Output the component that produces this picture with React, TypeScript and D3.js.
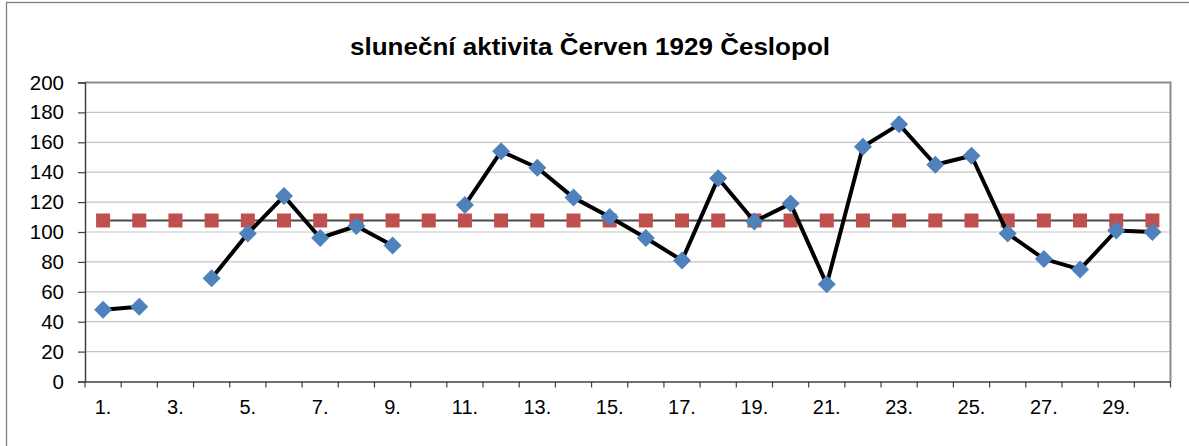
import React, { useEffect, useRef } from 'react';
import * as d3 from 'd3';

// denni hodnoty, null = chybi mereni
const DAYS = d3.range(1, 31);
const ACTIVITY: (number | null)[] = [
  48, 50, null, 69, 99, 124, 96, 104, 91, null,
  118, 154, 143, 123, 110, 96, 81, 136, 107, 119,
  65, 157, 172, 145, 151, 99, 82, 75, 101, 100,
];
const AVERAGE = 107.7;
const Y_TICKS = [0, 20, 40, 60, 80, 100, 120, 140, 160, 180, 200];
const X_LABEL_DAYS = [1, 3, 5, 7, 9, 11, 13, 15, 17, 19, 21, 23, 25, 27, 29];
const TITLE = 'sluneční aktivita Červen 1929 Česlopol';

const W = 1189;
const H = 446;
const margin = { top: 82.5, right: 18.5, bottom: 64.5, left: 85 };
const FONT = '"Liberation Sans", Arial, sans-serif';

const App = () => {
  const svgRef = useRef<SVGSVGElement>(null);

  useEffect(() => {
    const svg = d3.select(svgRef.current);
    svg.selectAll('*').remove();

    const x = d3.scaleBand<number>()
      .domain(DAYS)
      .range([margin.left, W - margin.right]);
    const y = d3.scaleLinear()
      .domain([0, 200])
      .range([H - margin.bottom, margin.top]);
    const cx = (d: number) => (x(d) as number) + x.bandwidth() / 2;

    // ramecek grafu
    svg.append('rect')
      .attr('x', 6.5).attr('y', 2.5)
      .attr('width', W + 20).attr('height', H + 20)
      .attr('fill', '#fff')
      .attr('stroke', '#7f7f7f')
      .attr('stroke-width', 1.3);

    svg.append('text')
      .attr('x', 350).attr('y', 54.5)
      .attr('font-family', FONT)
      .attr('font-weight', 'bold')
      .attr('font-size', 23)
      .attr('textLength', 480)
      .attr('lengthAdjust', 'spacingAndGlyphs')
      .attr('fill', '#000')
      .text(TITLE);

    // mrizka
    svg.append('g')
      .selectAll('line')
      .data(Y_TICKS.filter(t => t > 0 && t < 200))
      .join('line')
      .attr('x1', margin.left).attr('x2', W - margin.right)
      .attr('y1', d => y(d)).attr('y2', d => y(d))
      .attr('stroke', '#c4c4c4')
      .attr('stroke-width', 1.2);

    // okraj plochy
    svg.append('path')
      .attr('d', `M${margin.left},${margin.top}H${W - margin.right}V${H - margin.bottom}`)
      .attr('fill', 'none')
      .attr('stroke', '#8c8c8c')
      .attr('stroke-width', 2);

    // osa y
    const yAxis = svg.append('g')
      .attr('transform', `translate(${margin.left},0)`)
      .call(d3.axisLeft(y).tickValues(Y_TICKS).tickSize(7).tickPadding(14).tickFormat(d3.format('d')));
    yAxis.select('.domain').attr('stroke', '#404040').attr('stroke-width', 1.5);
    yAxis.selectAll('.tick line').attr('stroke', '#404040').attr('stroke-width', 1.2);
    yAxis.selectAll('.tick text')
      .attr('font-family', FONT).attr('font-size', 20.5).attr('fill', '#000');

    // osa x
    const xAxis = svg.append('g')
      .attr('transform', `translate(0,${H - margin.bottom})`)
      .call(d3.axisBottom(x).tickSize(0).tickPadding(18)
        .tickFormat(d => (X_LABEL_DAYS.includes(d) ? `${d}.` : '')));
    xAxis.select('.domain').attr('stroke', '#404040').attr('stroke-width', 1.5);
    xAxis.selectAll('.tick text')
      .attr('font-family', FONT).attr('font-size', 20).attr('fill', '#000');
    xAxis.append('g')
      .selectAll('line')
      .data([...DAYS, 31])
      .join('line')
      .attr('x1', d => d === 31 ? W - margin.right : (x(d) as number))
      .attr('x2', d => d === 31 ? W - margin.right : (x(d) as number))
      .attr('y1', 0).attr('y2', 6)
      .attr('stroke', '#404040')
      .attr('stroke-width', 1.2);

    // prumer
    svg.append('line')
      .attr('x1', cx(1)).attr('x2', cx(30))
      .attr('y1', y(AVERAGE)).attr('y2', y(AVERAGE))
      .attr('stroke', '#4a4a4a')
      .attr('stroke-width', 2);

    svg.append('g')
      .selectAll('rect')
      .data(DAYS)
      .join('rect')
      .attr('x', d => cx(d) - 7)
      .attr('y', y(AVERAGE) - 7)
      .attr('width', 14).attr('height', 14)
      .attr('fill', '#c0504d');

    // aktivita
    const series = DAYS.map((d, i) => ({ day: d, value: ACTIVITY[i] }));
    const line = d3.line<{ day: number; value: number | null }>()
      .defined(d => d.value !== null)
      .x(d => cx(d.day))
      .y(d => y(d.value as number));

    svg.append('path')
      .datum(series)
      .attr('d', line)
      .attr('fill', 'none')
      .attr('stroke', '#000')
      .attr('stroke-width', 4)
      .attr('stroke-linejoin', 'round');

    svg.append('g')
      .selectAll('path')
      .data(series.filter(d => d.value !== null))
      .join('path')
      .attr('transform', d => `translate(${cx(d.day)},${y(d.value as number)})`)
      .attr('d', 'M0,-9L9,0L0,9L-9,0Z')
      .attr('fill', '#4f81bd');
  }, []);

  return (
    <svg ref={svgRef} width={W} height={H}
      style={{ position: 'absolute', left: 0, top: 0, background: '#fff' }} />
  );
};

export default App;
